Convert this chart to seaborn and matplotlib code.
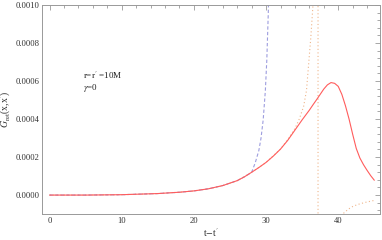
import numpy as np
import pandas as pd
import matplotlib
matplotlib.use("Agg")
import matplotlib.pyplot as plt
import seaborn as sns
from matplotlib.ticker import MultipleLocator, FormatStrFormatter

# ---- data ----
red_t = [0, 5, 10, 15, 18, 20, 22, 24, 26, 27, 28, 29, 30, 31, 32, 33, 34, 35, 36, 36.5, 37, 37.5, 38, 38.5,
         39, 39.5, 40, 40.5, 41, 41.5, 42, 42.5, 43, 43.5, 44, 44.5, 45]
red_v = [0, 0.0, 0.02e-4, 0.08e-4, 0.15e-4, 0.22e-4, 0.33e-4, 0.5e-4, 0.76e-4, 0.96e-4, 1.2e-4, 1.45e-4,
         1.72e-4, 2.05e-4, 2.42e-4, 2.88e-4, 3.42e-4, 3.96e-4, 4.47e-4, 4.75e-4, 5.02e-4, 5.3e-4, 5.58e-4,
         5.8e-4, 5.92e-4, 5.88e-4, 5.72e-4, 5.3e-4, 4.7e-4, 4.0e-4, 3.2e-4, 2.45e-4, 1.95e-4, 1.6e-4,
         1.3e-4, 1.02e-4, 0.78e-4]

blue_t = [0, 5, 10, 15, 18, 20, 22, 24, 26, 27, 28, 28.5, 29, 29.3, 29.6, 29.9, 30.1, 30.3, 30.5]
blue_v = [0, 0.0, 0.02e-4, 0.08e-4, 0.15e-4, 0.22e-4, 0.33e-4, 0.5e-4, 0.76e-4, 0.96e-4, 1.2e-4, 1.7e-4,
          2.35e-4, 3.0e-4, 3.96e-4, 5.5e-4, 7.1e-4, 9.5e-4, 13e-4]

orange_t = [0, 5, 10, 15, 18, 20, 22, 24, 26, 28, 30, 32, 33, 34, 34.6, 35.2, 35.6, 35.9, 36.2,
            36.5, 36.8, 37.2, 37.2, 39.5, 40.7, 41.4, 42.1, 43.0, 43.9, 45]
orange_v = [0, 0.0, 0.02e-4, 0.08e-4, 0.15e-4, 0.22e-4, 0.33e-4, 0.5e-4, 0.76e-4, 1.2e-4, 1.72e-4,
            2.42e-4, 2.92e-4, 3.5e-4, 4.0e-4, 4.66e-4, 5.5e-4, 6.9e-4, 8.3e-4,
            10.0e-4, 13e-4, 30e-4, -30e-4, -3e-4, -0.97e-4, -0.74e-4, -0.58e-4, -0.46e-4, -0.37e-4, -0.28e-4]

label_lines = ["r=r$'$ =10M", "$\\gamma$=0"]

# ---- style ----
sns.set_style("white")
plt.rcParams['font.family'] = ['Liberation Serif', 'DejaVu Serif']
plt.rcParams['mathtext.fontset'] = 'stix'

fig = plt.figure(figsize=(3.82, 2.40), dpi=100)
ax = fig.add_axes([0.110, 0.108, 0.885, 0.871])

df_r = pd.DataFrame({"t": red_t, "v": red_v})
df_b = pd.DataFrame({"t": blue_t, "v": blue_v})
df_o = pd.DataFrame({"t": orange_t, "v": orange_v})

sns.lineplot(data=df_o, x="t", y="v", ax=ax, sort=False, estimator=None,
             color="#efb58a", lw=0.8, linestyle=(0, (1, 2.2)))
sns.lineplot(data=df_b, x="t", y="v", ax=ax, sort=False, estimator=None,
             color="#9d9ddf", lw=0.8, linestyle=(0, (3, 2)))
sns.lineplot(data=df_r, x="t", y="v", ax=ax, sort=False, estimator=None,
             color="#ff5c5c", lw=0.8)

ax.set_xlim(-1.05, 45.8)
ax.set_ylim(-0.0001, 0.0010)

ax.xaxis.set_major_locator(MultipleLocator(10))
ax.xaxis.set_minor_locator(MultipleLocator(2))
ax.yaxis.set_major_locator(MultipleLocator(0.0002))
ax.yaxis.set_minor_locator(MultipleLocator(0.00004))
ax.yaxis.set_major_formatter(FormatStrFormatter('%.4f'))

for s in ax.spines.values():
    s.set_color("#999999")
    s.set_linewidth(0.7)
ax.tick_params(which='both', direction='in', top=True, right=True, color="#999999",
               labelsize=6.2, width=0.6, pad=2)
ax.tick_params(which='major', length=3.5)
ax.tick_params(which='minor', length=2)
ax.tick_params(axis='both', labelcolor="#333333")

ax.set_xlabel("t$-$t$'$", fontsize=7, labelpad=1, color="#333333")
ax.set_ylabel("$G_{\\rm ret}$(x,x$'$)", fontsize=7, color="#333333")
ax.yaxis.set_label_coords(-0.085, 0.5)

ax.text(4.6, 0.000632, label_lines[0], fontsize=6.5, va='center', ha='left', color="#222222")
ax.text(4.6, 0.000564, label_lines[1], fontsize=6.5, va='center', ha='left', color="#222222")

fig.savefig("out.png", dpi=100)
